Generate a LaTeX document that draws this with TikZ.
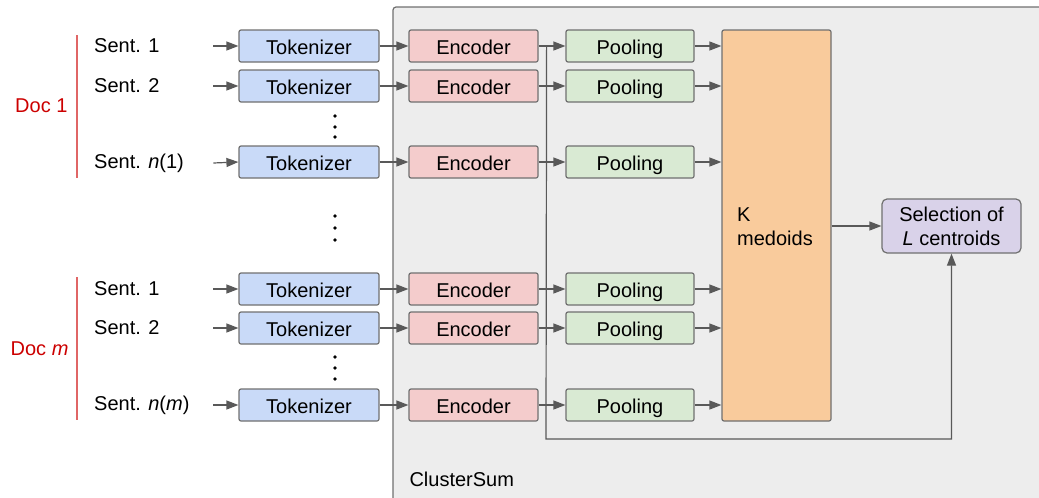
\documentclass[tikz,border=0pt]{standalone}
\usepackage{fontspec}
\setmainfont{Liberation Sans}
\usepackage{tikz}
\usetikzlibrary{arrows.meta,calc}

\definecolor{tokblue}{HTML}{C9DAF8}
\definecolor{encred}{HTML}{F4CCCC}
\definecolor{poolgreen}{HTML}{D9EAD3}
\definecolor{kmorange}{HTML}{F9CB9C}
\definecolor{selpurple}{HTML}{D9D2E9}
\definecolor{sumgray}{HTML}{EDEDED}
\definecolor{edgegray}{HTML}{707070}
\definecolor{arrgray}{HTML}{595959}
\definecolor{docred}{HTML}{E06666}
\definecolor{doctext}{HTML}{CC0000}

\begin{document}
\begin{tikzpicture}[x=1pt,y=-1pt,
  font=\fontsize{20}{24}\selectfont,
  box/.style={draw=edgegray,line width=1.2pt,rounded corners=2pt,minimum height=32pt,inner sep=0pt,text height=16pt,text depth=0pt},
  tok/.style={box,fill=tokblue,minimum width=140pt},
  enc/.style={box,fill=encred,minimum width=129pt},
  pool/.style={box,fill=poolgreen,minimum width=128pt},
  sent/.style={anchor=west,inner sep=0pt,text width=119pt,align=flush left},
  arr/.style={draw=arrgray,line width=1.2pt,-{Triangle[length=12pt,width=9pt]}},
  docbar/.style={draw=docred,line width=1.4pt}]
  \clip (0,0) rectangle (1039,498);

  % ClusterSum frame
  \draw[fill=sumgray,draw=edgegray,line width=1.2pt,rounded corners=3pt] (393,7) rectangle (1060,520);
  \node[anchor=west] (csum) at (406,479) {ClusterSum};

  % documents
  \draw[docbar] (77,35) -- (77,178);
  \draw[docbar] (77,277) -- (77,420);
  \node[text=doctext,anchor=east] (d1) at (71,106) {Doc 1};
  \node[text=doctext,anchor=east] (dm) at (72,349) {Doc \textit{m}};

  % sentences
  \node[sent] (s1) at (94,46) {Sent. 1};
  \node[sent] (s2) at (94,86) {Sent. 2};
  \node[sent] (s3) at (94,163) {Sent. \textit{n}(1)};
  \node[sent] (s4) at (94,289) {Sent. 1};
  \node[sent] (s5) at (94,328) {Sent. 2};
  \node[sent] (s6) at (94,405) {Sent. \textit{n}(\textit{m})};

  % tokenizers
  \node[tok] (t1) at (309,46) {Tokenizer};
  \node[tok] (t2) at (309,86) {Tokenizer};
  \node[tok] (t3) at (309,162) {Tokenizer};
  \node[tok] (t4) at (309,289) {Tokenizer};
  \node[tok] (t5) at (309,328) {Tokenizer};
  \node[tok] (t6) at (309,405) {Tokenizer};

  % encoders
  \node[enc] (e1) at (473.5,46) {Encoder};
  \node[enc] (e2) at (473.5,86) {Encoder};
  \node[enc] (e3) at (473.5,162) {Encoder};
  \node[enc] (e4) at (473.5,289) {Encoder};
  \node[enc] (e5) at (473.5,328) {Encoder};
  \node[enc] (e6) at (473.5,405) {Encoder};

  % pooling
  \node[pool] (p1) at (630,46) {Pooling};
  \node[pool] (p2) at (630,86) {Pooling};
  \node[pool] (p3) at (630,162) {Pooling};
  \node[pool] (p4) at (630,289) {Pooling};
  \node[pool] (p5) at (630,328) {Pooling};
  \node[pool] (p6) at (630,405) {Pooling};

  % clustering and selection
  \node[draw=edgegray,line width=1.2pt,rounded corners=2pt,fill=kmorange,minimum width=109pt,minimum height=391pt] (km) at (776.5,225.5) {};
  \node[anchor=west,align=left,inner sep=0pt] (kmtext) at (737,227) {K\\medoids};
  \node[draw=edgegray,line width=1.2pt,fill=selpurple,rounded corners=5pt,minimum width=139pt,minimum height=54pt,inner sep=0pt,align=center] (sel) at (951.5,226) {Selection of\\\textit{L} centroids};

  % vertical dots
  \foreach \dy in {116,127,137,216,228,240,357,368,379}
    \fill[black] (335,\dy) circle (1.8);

  % arrows
  \foreach \i in {1,...,6} {
    \draw[arr] (s\i.east) -- (t\i.west);
    \draw[arr] (t\i.east) -- (e\i.west);
    \draw[arr] (e\i.east) -- (p\i.west);
    \draw[arr] (p\i.east) -- (p\i.east -| km.west);
  }
  \draw[arr] (km.east |- sel.west) -- (sel.west);

  % bypass to the selection
  \coordinate (tap) at ($(e1.east)+(8,0)$);
  \coordinate (loop) at (546,439);
  \draw[arr] (tap) -- (loop) -| (sel.south);
\end{tikzpicture}
\end{document}
